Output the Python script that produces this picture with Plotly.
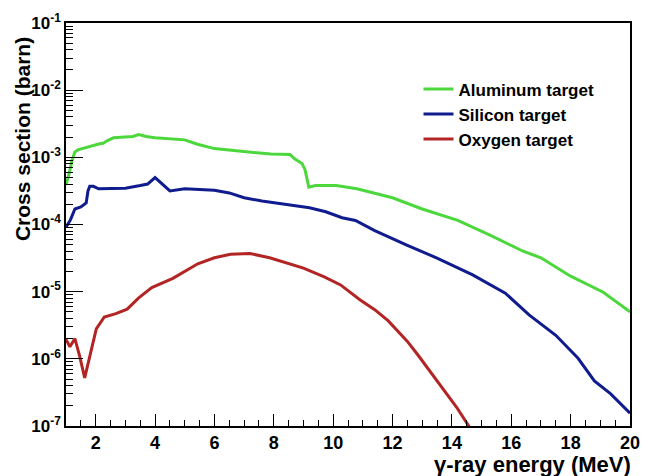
import plotly.graph_objects as go

# ---- data ----
al_energy = [1.0, 1.1, 1.2, 1.3, 1.4, 1.7, 1.9, 2.1, 2.25, 2.4, 2.6, 3.0, 3.25, 3.45, 3.7,
             4.0, 4.5, 5.0, 5.4, 6.0, 6.9, 7.9, 8.55, 8.7, 8.95, 9.05, 9.18, 9.4, 10.1, 10.8,
             12.0, 13.0, 14.2, 15.3, 16.4, 17.0, 18.0, 19.1, 20.0]
al_xs = [3.9e-4, 5.6e-4, 8.9e-4, 1.20e-3, 1.29e-3, 1.41e-3, 1.51e-3, 1.58e-3, 1.62e-3, 1.78e-3,
         1.95e-3, 2.0e-3, 2.04e-3, 2.19e-3, 2.04e-3, 1.95e-3, 1.86e-3, 1.82e-3, 1.58e-3, 1.35e-3,
         1.23e-3, 1.12e-3, 1.10e-3, 9.5e-4, 8.1e-4, 6.6e-4, 3.6e-4, 3.8e-4, 3.8e-4, 3.4e-4,
         2.5e-4, 1.70e-4, 1.15e-4, 6.9e-5, 4.0e-5, 3.2e-5, 1.70e-5, 9.8e-6, 5.0e-6]

si_energy = [1.0, 1.15, 1.3, 1.5, 1.68, 1.74, 1.8, 1.92, 2.1, 2.6, 3.0, 3.5, 3.75, 4.0, 4.25,
             4.5, 5.0, 5.5, 6.0, 6.5, 7.0, 7.6, 8.1, 8.75, 9.2, 9.75, 10.3, 10.75, 11.4, 12.5,
             13.5, 14.7, 15.8, 16.6, 17.5, 18.25, 18.8, 19.35, 20.0]
si_xs = [9.1e-5, 1.17e-4, 1.70e-4, 1.82e-4, 2.09e-4, 3.16e-4, 3.7e-4, 3.7e-4, 3.4e-4, 3.4e-4,
         3.47e-4, 3.8e-4, 4.0e-4, 5.0e-4, 4.0e-4, 3.16e-4, 3.4e-4, 3.3e-4, 3.24e-4, 2.95e-4,
         2.5e-4, 2.24e-4, 2.09e-4, 1.91e-4, 1.78e-4, 1.55e-4, 1.26e-4, 1.15e-4, 8.1e-5, 4.9e-5,
         3.16e-5, 1.78e-5, 9.5e-6, 4.5e-6, 2.24e-6, 1.02e-6, 4.7e-7, 3.0e-7, 1.55e-7]

o_energy = [1.0, 1.13, 1.3, 1.46, 1.63, 1.79, 2.02, 2.29, 2.68, 3.06, 3.45, 3.89, 4.6, 5.44,
            6.0, 6.54, 7.2, 7.86, 8.5, 9.0, 9.7, 10.25, 10.9, 11.4, 11.85, 12.5, 12.85, 13.6,
            14.16, 14.6]
o_xs = [1.95e-6, 1.51e-6, 2.0e-6, 1.10e-6, 5.2e-7, 1.02e-6, 2.8e-6, 4.2e-6, 4.7e-6, 5.5e-6,
        8.1e-6, 1.15e-5, 1.58e-5, 2.6e-5, 3.2e-5, 3.6e-5, 3.7e-5, 3.2e-5, 2.6e-5, 2.24e-5,
        1.66e-5, 1.26e-5, 7.6e-6, 5.4e-6, 3.7e-6, 1.82e-6, 1.15e-6, 4.2e-7, 1.9e-7, 9.5e-8]

series_names = ["Aluminum target", "Silicon target", "Oxygen target"]
series_colors = ["#4cd83c", "#101c8e", "#b32424"]

y_tickvals = [1e-7, 1e-6, 1e-5, 1e-4, 1e-3, 1e-2, 1e-1]
y_ticktext = ["10<sup>-7</sup>", "10<sup>-6</sup>", "10<sup>-5</sup>", "10<sup>-4</sup>",
              "10<sup>-3</sup>", "10<sup>-2</sup>", "10<sup>-1</sup>"]
x_tickvals = [2, 4, 6, 8, 10, 12, 14, 16, 18, 20]

x_title = "γ-ray energy (MeV)"
y_title = "Cross section (barn)"

FONT = "Liberation Sans"

fig = go.Figure()
for xs, ys, name, col in [(al_energy, al_xs, series_names[0], series_colors[0]),
                          (si_energy, si_xs, series_names[1], series_colors[1]),
                          (o_energy, o_xs, series_names[2], series_colors[2])]:
    fig.add_trace(go.Scatter(x=xs, y=ys, mode="lines", name=name,
                             line=dict(color=col, width=3)))

fig.update_layout(
    width=651, height=476,
    margin=dict(l=66, r=11, t=15, b=50),
    paper_bgcolor="white", plot_bgcolor="white",
    showlegend=True,
    legend=dict(x=0.625, y=0.88, xanchor="left", yanchor="top",
                bgcolor="rgba(0,0,0,0)", borderwidth=0,
                font=dict(family=FONT, size=17, color="black", weight="bold"),
                tracegroupgap=0, itemwidth=30),
)

fig.update_xaxes(
    range=[1, 20], showgrid=False, zeroline=False,
    showline=True, linecolor="black", linewidth=1.5, mirror=True,
    ticks="inside", ticklen=12, tickwidth=1, tickcolor="black",
    tickvals=x_tickvals,
    tickfont=dict(family=FONT, size=18, color="black", weight="bold"),
    minor=dict(ticks="inside", ticklen=6, tickwidth=1, tickcolor="black", dtick=0.5, showgrid=False),
)

fig.update_yaxes(
    type="log", range=[-7, -1], showgrid=False, zeroline=False,
    showline=True, linecolor="black", linewidth=1.5, mirror=True,
    ticks="inside", ticklen=17, tickwidth=1, tickcolor="black",
    tickvals=y_tickvals, ticktext=y_ticktext,
    tickfont=dict(family=FONT, size=17, color="black", weight="bold"),
    minor=dict(ticks="inside", ticklen=7, tickwidth=1, tickcolor="black", dtick="D1", showgrid=False),
)

fig.add_annotation(text=y_title, textangle=-90, xref="paper", yref="paper",
                   x=-0.078, y=0.712, xanchor="center", yanchor="middle", showarrow=False,
                   font=dict(family=FONT, size=21, color="black", weight="bold"))
fig.add_annotation(text=x_title, xref="paper", yref="paper",
                   x=1.006, y=-0.095, xanchor="right", yanchor="middle", showarrow=False,
                   font=dict(family=FONT, size=22, color="black", weight="bold"))

fig.write_html("out.html")
